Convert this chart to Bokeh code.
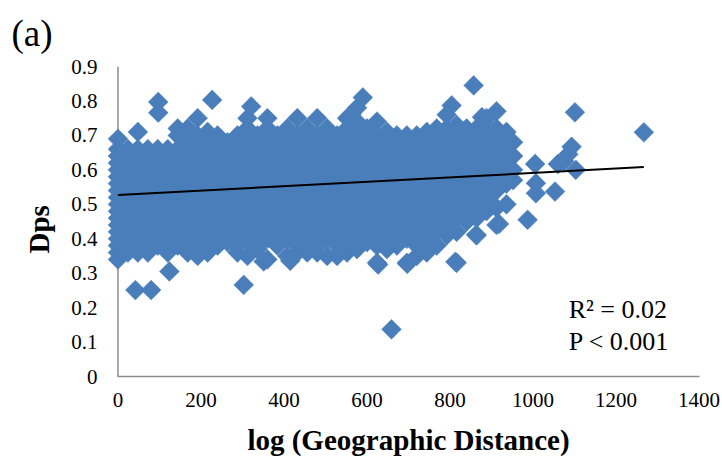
from math import pi
from bokeh.plotting import figure
from bokeh.models import Label, Range1d, FixedTicker, Span, Title
from bokeh.embed import file_html
from bokeh.resources import INLINE

# distance positions read across the dense cloud, with the Dps values read at each
dist_columns = [0, 24, 48, 72, 96, 120, 144, 168, 192, 216, 240, 264, 288, 312, 336, 360, 384, 408, 432, 456,
                480, 504, 528, 552, 576, 600, 624, 648, 672, 696, 720, 744, 768, 792, 816, 840, 864, 888, 912, 936, 952]
dps_columns = [
    [.34, .36, .38, .40, .42, .44, .46, .48, .50, .52, .54, .56, .58, .60, .62, .64, .66, .69],
    [.36, .40, .44, .48, .52, .56, .60, .64, .66],
    [.36, .38, .42, .46, .50, .54, .58, .62, .66, .71],
    [.36, .40, .44, .48, .52, .56, .60, .64, .66],
    [.38, .42, .46, .50, .54, .58, .62, .66],
    [.36, .40, .44, .48, .52, .56, .60, .64, .66],
    [.38, .42, .46, .50, .54, .58, .62, .66, .70, .72],
    [.36, .40, .44, .48, .52, .56, .60, .64, .68, .72],
    [.35, .38, .42, .46, .50, .54, .58, .62, .66, .70, .75],
    [.36, .40, .44, .48, .52, .56, .60, .64, .68, .71],
    [.38, .42, .46, .50, .54, .58, .62, .66, .70],
    [.39, .40, .44, .48, .52, .56, .60, .64, .68],
    [.36, .38, .42, .46, .50, .54, .58, .62, .66, .70],
    [.35, .40, .44, .48, .52, .56, .60, .64, .68, .72, .75],
    [.37, .38, .42, .46, .50, .54, .58, .62, .66, .70],
    [.34, .40, .44, .48, .52, .56, .60, .64, .68, .72, .75],
    [.38, .42, .46, .50, .54, .58, .62, .66, .70],
    [.35, .40, .44, .48, .52, .56, .60, .64, .68, .72],
    [.36, .38, .42, .46, .50, .54, .58, .62, .66, .70, .75],
    [.36, .40, .44, .48, .52, .56, .60, .64, .68, .72],
    [.36, .38, .42, .46, .50, .54, .58, .62, .66, .70, .75],
    [.35, .40, .44, .48, .52, .56, .60, .64, .68, .72],
    [.35, .38, .42, .46, .50, .54, .58, .62, .66, .70],
    [.36, .40, .44, .48, .52, .56, .60, .64, .68, .72, .75],
    [.37, .38, .42, .46, .50, .54, .58, .62, .66, .70, .74, .78],
    [.39, .40, .44, .48, .52, .56, .60, .64, .68, .72],
    [.33, .38, .42, .46, .50, .54, .58, .62, .66, .70, .74],
    [.37, .40, .44, .48, .52, .56, .60, .64, .68, .71],
    [.38, .42, .46, .50, .54, .58, .62, .66, .70],
    [.33, .40, .44, .48, .52, .56, .60, .64, .68, .70],
    [.35, .38, .42, .46, .50, .54, .58, .62, .66, .70],
    [.36, .40, .44, .48, .52, .56, .60, .64, .68, .71],
    [.38, .42, .46, .50, .54, .58, .62, .66, .70, .72],
    [.41, .44, .48, .52, .56, .60, .64, .68, .72, .76],
    [.33, .42, .46, .50, .54, .58, .62, .66, .70, .73],
    [.45, .48, .52, .56, .60, .64, .68, .72],
    [.41, .46, .50, .54, .58, .62, .66, .70, .72],
    [.50, .48, .52, .56, .60, .64, .68, .72, .75],
    [.44, .49, .54, .58, .62, .66, .70, .72, .77],
    [.50, .56, .60, .64, .68, .71],
    [.57, .60, .64, .68],
]
# separately readable points
outlier_dist = [97, 97, 227, 321, 42, 80, 124, 303, 351, 415, 659, 857, 877, 804, 1101, 1267, 1093, 1085, 1103,
                1060, 1075, 1005, 1007, 1007, 1053, 987, 863, 918, 813, 697, 627, 590, 562]
outlier_dps = [.797, .766, .803, .784, .251, .251, .305, .266, .334, .336, .137, .845, .753, .787, .767, .709, .667, .645, .60,
               .617, .625, .617, .561, .532, .537, .455, .412, .443, .333, .327, .325, .81, .76]
trend_dist = [0, 1267]
trend_dps = [.527, .608]
x_ticks = [0, 200, 400, 600, 800, 1000, 1200, 1400]
y_ticks = [0, .1, .2, .3, .4, .5, .6, .7, .8, .9]

FONT = "Liberation Serif"
GRAY = "#8c8c8c"
BLUE = "#4a7ebb"

p = figure(width=722, height=459, output_backend="svg", toolbar_location=None,
           x_range=Range1d(-30, 1430), y_range=Range1d(0, .9),
           min_border_left=105, min_border_right=11, min_border_top=66, min_border_bottom=83,
           outline_line_color=None, background_fill_color="white", border_fill_color="white")
p.grid.visible = False
p.add_layout(Span(location=0, dimension="height", line_color=GRAY, line_width=1.5, level="underlay"))

x = [d for d, col in zip(dist_columns, dps_columns) for _ in col] + outlier_dist
y = [v for col in dps_columns for v in col] + outlier_dps
p.scatter(x, y, marker="square", angle=pi / 4, size=14, fill_color=BLUE, line_color=BLUE, line_width=0.5)
p.line(trend_dist, trend_dps, line_color="black", line_width=2)

xa, ya = p.xaxis[0], p.yaxis[0]
xa.bounds = (0, 1400)
xa.ticker = FixedTicker(ticks=x_ticks)
ya.ticker = FixedTicker(ticks=y_ticks)
ya.major_label_overrides = {0: "0"}
for a in (xa, ya):
    a.major_tick_line_color = None
    a.minor_tick_line_color = None
    a.major_label_text_font = FONT
    a.major_label_text_font_size = "21px"
    a.major_label_text_color = "black"
    a.axis_label_text_font = FONT
    a.axis_label_text_font_size = "29px"
    a.axis_label_text_font_style = "bold"
    a.axis_label_text_color = "black"
xa.axis_line_color = GRAY
xa.axis_line_width = 1.5
ya.axis_line_color = None
xa.axis_label = "log (Geographic Distance)"
xa.major_label_standoff = 10
ya.major_label_standoff = 2
xa.axis_label_standoff = 14

for txt, vx, vy, sz in [("R² = 0.02", 1086, .194, "26px"), ("P < 0.001", 1086, .101, "26px")]:
    p.add_layout(Label(x=vx, y=vy, text=txt, text_font=FONT, text_font_size=sz, text_color="black",
                       text_baseline="alphabetic"))
p.add_layout(Title(text="(a)", align="left", offset=-94, standoff=22, vertical_align="top", text_font=FONT,
                   text_font_size="37px", text_font_style="normal", text_color="black"), "above")
p.add_layout(Title(text="Dps", align="left", offset=123, standoff=27, text_font=FONT, text_font_size="29px",
                   text_font_style="bold", text_color="black"), "left")

open("out.html", "w").write(file_html(p, INLINE))
